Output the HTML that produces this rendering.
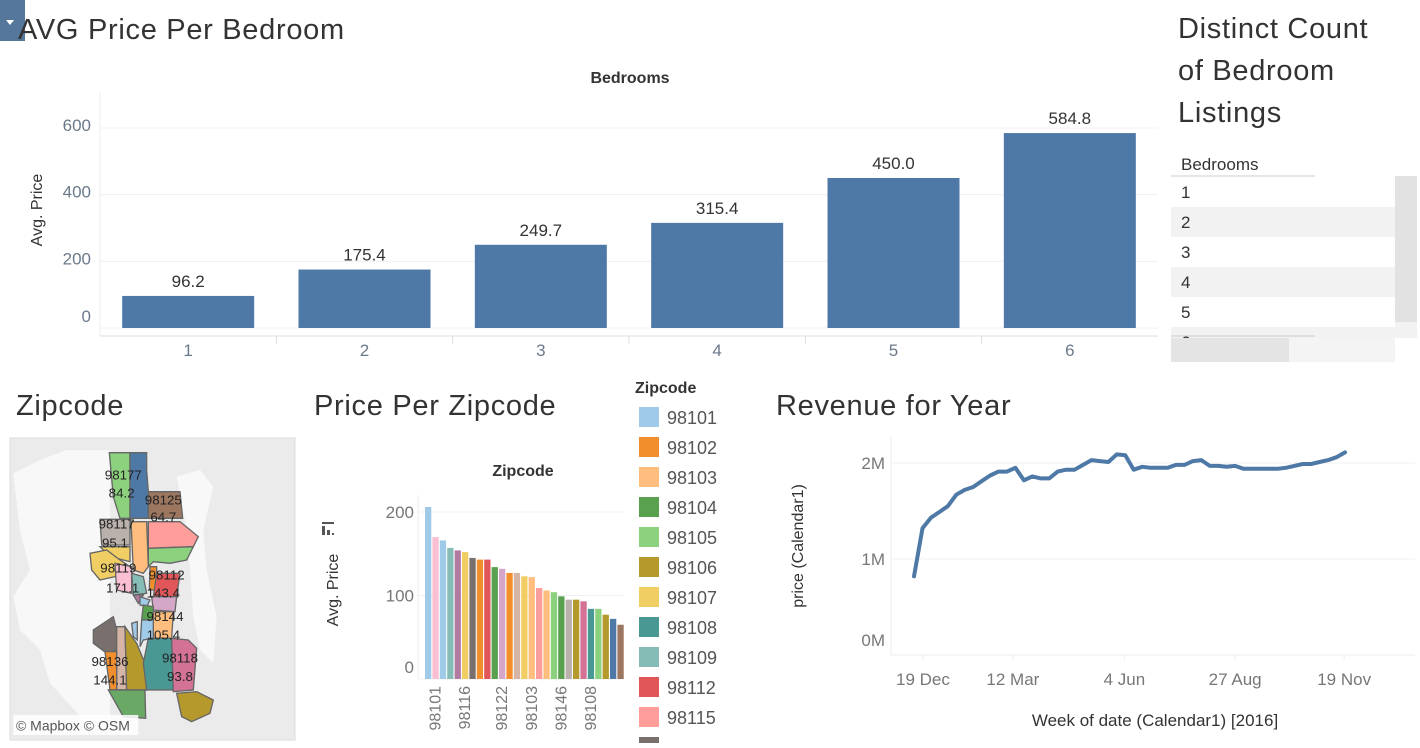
<!DOCTYPE html>
<html><head><meta charset="utf-8">
<style>
html,body{margin:0;padding:0;background:#fff;}
body{width:1420px;height:743px;overflow:hidden;font-family:"Liberation Sans",sans-serif;}
svg text{font-family:"Liberation Sans",sans-serif;}
.ttl{font-size:29px;letter-spacing:0.7px;fill:#333;}
</style></head>
<body>
<svg id="dash" width="1420" height="743" viewBox="0 0 1420 743" xmlns="http://www.w3.org/2000/svg">
  <g>
    <rect x="0" y="0" width="25" height="41" fill="#55779c"/>
    <path d="M6 20 L14 20 L10 25 Z" fill="#fff"/>
  </g>
  <text x="18" y="39" class="ttl">AVG Price Per Bedroom</text>
  <text x="630" y="83" font-size="16" fill="#333" font-weight="bold" text-anchor="middle">Bedrooms</text>
  <g id="bedChart"></g>

  <g>
    <text x="1178" y="38" class="ttl">Distinct Count</text>
    <text x="1178" y="80" class="ttl">of Bedroom</text>
    <text x="1178" y="122" class="ttl">Listings</text>
  </g>
  <g id="bedTable"></g>

  <text x="16" y="415" class="ttl">Zipcode</text>
  <g id="mapG"></g>

  <text x="314" y="415" class="ttl">Price Per Zipcode</text>
  <text x="523" y="476" font-size="16" fill="#333" font-weight="bold" text-anchor="middle">Zipcode</text>
  <g id="zipChart"></g>
  <g id="zipLegend"></g>

  <text x="776" y="415" class="ttl">Revenue for Year</text>
  <g id="revChart"></g>
</svg>
<script>
// ---------- Bedroom chart data ----------
const bedCats = ["1","2","3","4","5","6"];
const bedVals = [96.2,175.4,249.7,315.4,450.0,584.8];
const bedTicks = [0,200,400,600];
// ---------- Zip chart data ----------
const zipVals = [206,170,166,157,154,152,145,143,143,134,132,127,127,123,122,109,106,104,99,95,95,93,84,84,77,72,65];
const zipColors = ["#a0cbe8","#fabfd2","#a0cbe8","#86bcb6","#b07aa1","#f1ce63","#79706e","#f28e2b","#e15759","#59a14f","#d4a6c8","#f28e2b","#d7b5a6","#f1ce63","#ffbe7d","#ff9d9a","#ffbe7d","#8cd17d","#59a14f","#bab0ac","#b6992d","#d37295","#499894","#8cd17d","#b6992d","#4e79a7","#9d7660"];
const zipTickLabels = ["98101","98116","98122","98103","98146","98108"];
const zipTickIdx = [1,5,10,14,18,22];
const zipTicks = [0,100,200];
const legendZips = ["98101","98102","98103","98104","98105","98106","98107","98108","98109","98112","98115",""];
const legendColors = ["#a0cbe8","#f28e2b","#ffbe7d","#59a14f","#8cd17d","#b6992d","#f1ce63","#499894","#86bcb6","#e15759","#ff9d9a","#79706e"];
// ---------- Revenue data (millions) ----------
const revVals = [0.82,1.32,1.43,1.49,1.55,1.67,1.72,1.75,1.81,1.87,1.91,1.91,1.95,1.82,1.86,1.84,1.84,1.91,1.93,1.93,1.98,2.03,2.02,2.01,2.09,2.08,1.93,1.96,1.95,1.95,1.95,1.98,1.98,2.02,2.03,1.97,1.97,1.96,1.97,1.94,1.94,1.94,1.94,1.94,1.95,1.97,1.99,1.99,2.01,2.03,2.06,2.11];
const revTickLabels = ["19 Dec","12 Mar","4 Jun","27 Aug","19 Nov"];
const revTickIdx = [1.06,11.7,24.9,38,50.9];
const revYTicks = [0,1,2];
const revYLabels = ["0M","1M","2M"];
// ---------- Table ----------
const tableRows = ["1","2","3","4","5","6"];

const NS="http://www.w3.org/2000/svg";
function mk(parent,tag,attrs,text){const e=document.createElementNS(NS,tag);for(const k in attrs)e.setAttribute(k,attrs[k]);if(text!==undefined)e.textContent=text;parent.appendChild(e);return e;}

(function(){
  const g=document.getElementById('bedChart');
  const x0=100,x1=1158,base=328,k=200/600;
  const step=(x1-x0)/bedCats.length;
  const y=v=>base-v*k;
  mk(g,'line',{x1:x0,y1:92,x2:x0,y2:base+8,stroke:'#eee'});
  bedTicks.forEach(t=>{
    mk(g,'line',{x1:x0,y1:y(t),x2:x1,y2:y(t),stroke:'#f0f0f0'});
    const ly=(t===0)?y(t)-6:y(t)+3;
    const tl=mk(g,'text',{x:91,y:ly,'font-size':17,fill:'#6b7a8a','text-anchor':'end'},String(t));
    
    
  });
  const yt=mk(g,'text',{x:0,y:0,'font-size':16,fill:'#333','text-anchor':'middle',transform:'translate(42,210) rotate(-90)'},'Avg. Price');
  
  
  mk(g,'line',{x1:x0,y1:base+8,x2:x1,y2:base+8,stroke:'#ddd'});
  bedCats.forEach((c,i)=>{
    const cx=x0+step*(i+0.5);
    const r=mk(g,'rect',{x:cx-66,y:y(bedVals[i]),width:132,height:bedVals[i]*k,fill:'#4e79a7'});
    
    
    const vl=mk(g,'text',{x:cx,y:y(bedVals[i])-9,'font-size':17,fill:'#333','text-anchor':'middle'},bedVals[i].toFixed(1));
    
    
    const xl=mk(g,'text',{x:cx,y:356,'font-size':17,fill:'#6b7a8a','text-anchor':'middle'},c);
    
    
    if(i>0)mk(g,'line',{x1:x0+step*i,y1:base+8,x2:x0+step*i,y2:base+16,stroke:'#ddd'});
  });
})();

(function(){
  const g=document.getElementById('bedTable');
  const h=mk(g,'text',{x:1181,y:170,'font-size':17,fill:'#333'},'Bedrooms');
  
  
  tableRows.forEach((r,i)=>{
    const yy=177+i*30;
    const fill=(i%2===1)?'#f2f2f2':'#fff';
    mk(g,'rect',{x:1171,y:yy,width:224,height:30,fill:fill});
    const t=mk(g,'text',{x:1181,y:yy+21,'font-size':17,fill:'#333'},r);
    
    
  });
  mk(g,'rect',{x:1165,y:338,width:255,height:30,fill:'#fff'});
  mk(g,'rect',{x:1171,y:338,width:224,height:24,fill:'#f4f4f4'});
  const hs=mk(g,'rect',{x:1171,y:338,width:118,height:24,fill:'#e4e4e4'});
  
  
  mk(g,'line',{x1:1171,y1:336,x2:1315,y2:336,stroke:'#ccc'});
  mk(g,'line',{x1:1171,y1:176,x2:1315,y2:176,stroke:'#ccc'});
  const vs=mk(g,'rect',{x:1395,y:176,width:22,height:146,fill:'#e2e2e2'});
  
  
  mk(g,'rect',{x:1395,y:322,width:22,height:16,fill:'#f2f2f2'});
})();

(function(){
  const g=document.getElementById('mapG');
  mk(g,'rect',{x:10,y:438,width:285,height:302,fill:'#ebebeb',stroke:'#ddd'});
  const m=mk(g,'g',{transform:'translate(0,430) scale(0.3333)'});
  mk(m,'path',{d:'M40 130 L120 90 L200 60 L330 60 L330 880 L260 880 L150 760 L120 660 L60 600 L40 500 L90 420 L60 300 Z',fill:'#f8f8f8'});
  mk(m,'path',{d:'M530 140 L600 120 L640 170 L610 300 L620 420 L650 560 L640 700 L600 660 L580 560 L570 420 L560 300 Z',fill:'#f8f8f8'});
  const polys=[
    ['328,68 390,68 390,265 360,265 340,200','#8cd17d'],
    ['390,68 440,68 440,120 445,185 445,265 390,265','#4e79a7'],
    ['445,185 540,185 548,265 445,265','#9d7660'],
    ['445,275 540,275 595,320 580,350 445,355','#ff9d9a'],
    ['445,355 580,350 560,390 510,400 460,395 445,410','#8cd17d'],
    ['300,268 390,268 390,345 305,345','#bab0ac'],
    ['300,350 390,350 390,395 330,380','#f1ce63'],
    ['393,275 440,275 445,410 430,430 400,420','#ffbe7d'],
    ['270,370 320,360 360,390 390,410 345,440 300,450 275,420','#f1ce63'],
    ['345,400 395,410 395,490 350,480','#fabfd2'],
    ['395,430 430,440 440,490 400,495','#86bcb6'],
    ['450,410 470,410 470,480 448,480','#f28e2b'],
    ['470,430 540,430 530,500 460,500','#e15759'],
    ['455,500 530,500 525,545 460,540','#d4a6c8'],
    ['400,495 430,495 415,520','#b07aa1'],
    ['420,500 450,510 440,530 420,525','#a0cbe8'],
    ['430,525 460,530 460,570 425,570','#59a14f'],
    ['460,545 520,545 515,625 460,625','#ffbe7d'],
    ['425,570 460,570 460,625 430,630 420,650','#a0cbe8'],
    ['395,580 412,575 412,630 400,620','#a0cbe8'],
    ['280,600 340,560 350,600 350,660 320,670 280,640','#79706e'],
    ['350,590 375,590 380,780 350,780','#d7b5a6'],
    ['315,665 350,665 350,780 330,780','#f28e2b'],
    ['375,590 410,640 435,700 440,780 380,780','#b6992d'],
    ['445,625 515,625 520,780 440,780 430,700','#499894'],
    ['515,625 565,630 590,655 580,780 520,785','#d37295'],
    ['325,780 435,780 437,865 370,860','#6aa866'],
    ['530,790 590,785 640,810 630,850 575,875 545,860','#b6992d']
  ];
  polys.forEach(p=>{
    const e=mk(m,'polygon',{points:p[0],fill:p[1],stroke:'#666','stroke-width':4});
    
    
  });
  const labels=[['98177',370,135],['84.2',365,190],['98125',490,210],['64.7',490,262],['98117',350,282],['95.1',345,340],['98119',355,415],['171.1',368,475],['98112',500,435],['143.4',490,490],['98144',495,560],['105.4',490,615],['98136',330,695],['144.1',330,750],['98118',540,685],['93.8',540,740]];
  labels.forEach(l=>{
    const t=mk(m,'text',{x:l[1],y:l[2]+13,'font-size':40,fill:'#222','text-anchor':'middle'},l[0]);
    
    
  });
  mk(m,'rect',{x:40,y:855,width:375,height:60,fill:'#fff','fill-opacity':0.85});
  const at=mk(m,'text',{x:48,y:902,'font-size':42,fill:'#555'},'© Mapbox  © OSM');
  
  
})();

(function(){
  const g=document.getElementById('zipChart');
  const x0=425,step=7.4,bw=6.3,base=679,k=167/200;
  const y=v=>base-v*k;
  mk(g,'line',{x1:418,y1:495,x2:418,y2:base,stroke:'#eee'});
  zipTicks.forEach(t=>{
    mk(g,'line',{x1:418,y1:y(t),x2:625,y2:y(t),stroke:'#f0f0f0'});
    const ly=(t===0)?y(t)-6:y(t)+6;
    const tl=mk(g,'text',{x:414,y:ly,'font-size':17,fill:'#777','text-anchor':'end'},String(t));
    
    
  });
  const yt=mk(g,'text',{x:0,y:0,'font-size':16,fill:'#333','text-anchor':'middle',transform:'translate(338,590) rotate(-90)'},'Avg. Price');
  
  
  const sortIcon=mk(g,'g',{});
  
  
  mk(sortIcon,'rect',{x:322,y:522,width:12,height:2,fill:'#555'});
  mk(sortIcon,'rect',{x:322,y:526,width:3,height:9,fill:'#555'});
  mk(sortIcon,'rect',{x:327,y:530,width:3,height:5,fill:'#555'});
  mk(sortIcon,'rect',{x:332,y:533,width:2,height:2,fill:'#555'});
  zipVals.forEach((v,i)=>{
    const r=mk(g,'rect',{x:x0+i*step,y:y(v),width:bw,height:v*k,fill:zipColors[i]});
    
    
  });
  zipTickLabels.forEach((l,j)=>{
    const cx=x0+zipTickIdx[j]*step+bw/2+5;
    const t=mk(g,'text',{x:0,y:0,'font-size':16,fill:'#777','text-anchor':'end',transform:'translate('+cx+',686) rotate(-90)'},l);
    
    
  });
})();

(function(){
  const g=document.getElementById('zipLegend');
  const t=mk(g,'text',{x:635,y:393,'font-size':16,fill:'#333','font-weight':'bold'},'Zipcode');
  
  
  legendZips.forEach((z,i)=>{
    const yy=407+i*30;
    const s=mk(g,'rect',{x:639,y:yy,width:20,height:20,fill:legendColors[i]});
    
    
    if(z){
      const l=mk(g,'text',{x:667,y:yy+17,'font-size':18,fill:'#555'},z);
      
      
    }
  });
})();

(function(){
  const g=document.getElementById('revChart');
  const x0=914,step=(1345-914)/(revVals.length-1),base=655,k=96;
  const x=i=>x0+i*step;
  const y=v=>base-v*k;
  mk(g,'line',{x1:891,y1:437,x2:891,y2:base,stroke:'#eee'});
  revYTicks.forEach((t,j)=>{
    if(t>0)mk(g,'line',{x1:891,y1:y(t),x2:1415,y2:y(t),stroke:'#f0f0f0'});
    const ty=(t===0)?646:y(t)+6;
    const tl=mk(g,'text',{x:885,y:ty,'font-size':17,fill:'#777','text-anchor':'end'},revYLabels[j]);
    
    
  });
  mk(g,'line',{x1:891,y1:base,x2:1415,y2:base,stroke:'#eee'});
  const yt=mk(g,'text',{x:0,y:0,'font-size':16,fill:'#333','text-anchor':'middle',transform:'translate(803,546) rotate(-90)'},'price (Calendar1)');
  
  
  revTickLabels.forEach((l,j)=>{
    const tx=x(revTickIdx[j]);
    mk(g,'line',{x1:tx,y1:base,x2:tx,y2:base+6,stroke:'#eee'});
    const t=mk(g,'text',{x:tx,y:685,'font-size':17,fill:'#777','text-anchor':'middle'},l);
    
    
  });
  const d=revVals.map((v,i)=>(i?'L':'M')+x(i).toFixed(1)+' '+y(v).toFixed(1)).join(' ');
  const p=mk(g,'path',{d:d,fill:'none',stroke:'#4e79a7','stroke-width':4,'stroke-linejoin':'round','stroke-linecap':'round'});
  
  
  const xt=mk(g,'text',{x:1155,y:726,'font-size':17,fill:'#333','text-anchor':'middle'},'Week of date (Calendar1) [2016]');
  
  
})();
</script>
</body></html>
